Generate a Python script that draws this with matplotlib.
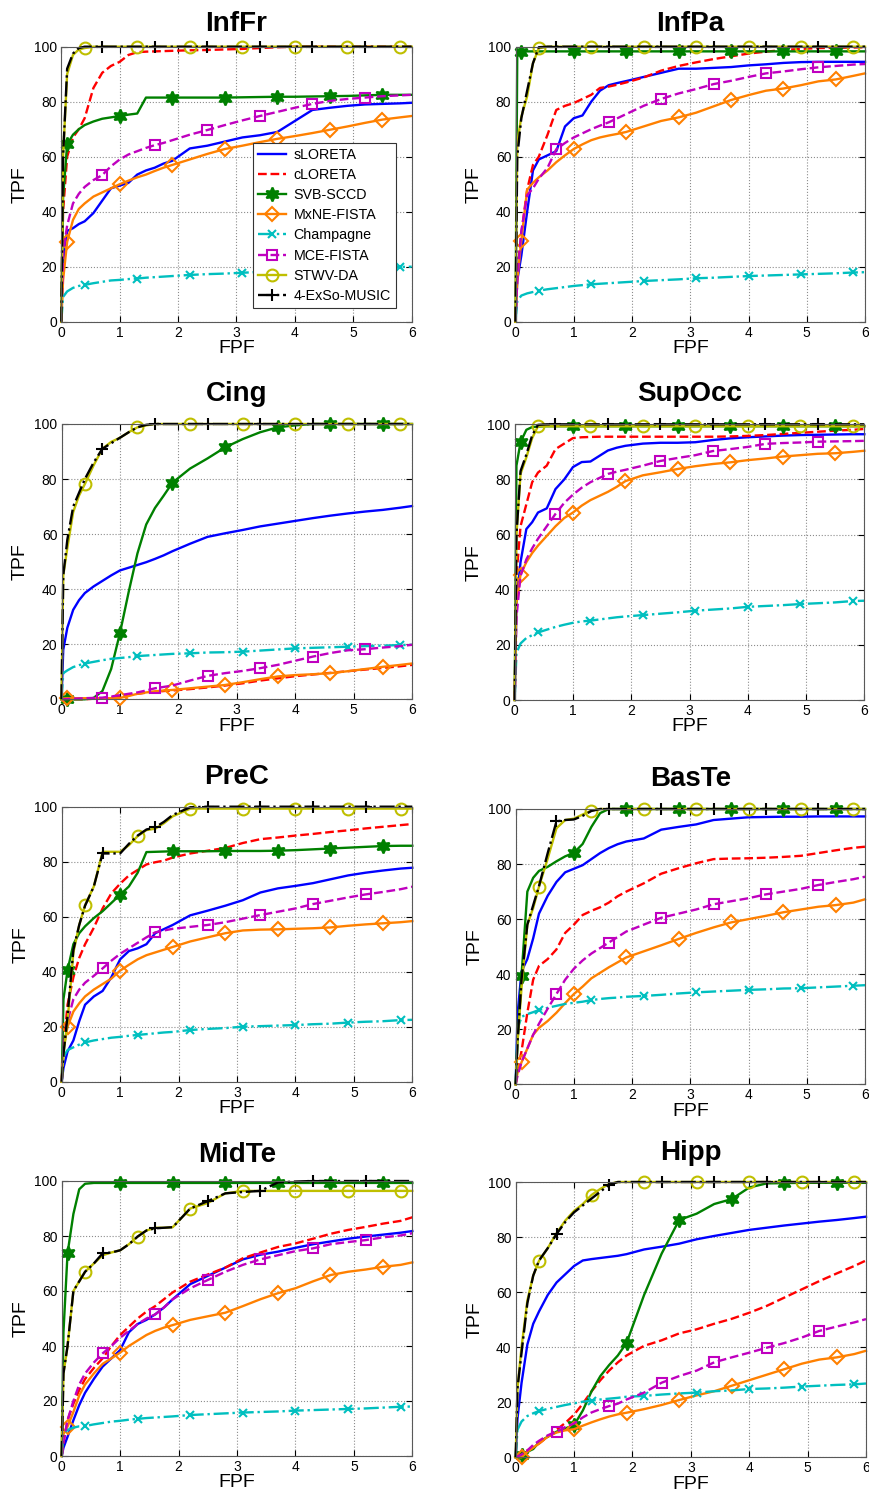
import numpy as np
import matplotlib.pyplot as plt

plt.rcParams['font.family'] = ['Liberation Sans', 'DejaVu Sans']

# FPF sample positions shared by every curve
GRID = [0, 0.03, 0.1, 0.2, 0.3, 0.4, 0.55, 0.7, 0.85, 1.0, 1.15, 1.3, 1.45, 1.6, 1.75,
        1.9, 2.2, 2.5, 2.8, 3.1, 3.4, 3.7, 4.0, 4.3, 4.6, 4.9, 5.2, 5.5, 5.8, 6.0]

methods = ['sLORETA', 'cLORETA', 'SVB-SCCD', 'MxNE-FISTA', 'Champagne',
           'MCE-FISTA', 'STWV-DA', '4-ExSo-MUSIC']
titles = ['InfFr', 'InfPa', 'Cing', 'SupOcc', 'PreC', 'BasTe', 'MidTe', 'Hipp']

# TPF values, one row per method (same order as methods)
infFr = [
    [0, 22, 33, 34, 35.5, 36.5, 39.5, 44, 48.5, 49.5, 50.5, 53.5, 55, 56, 57.5, 58.5, 63, 64, 65.5, 67, 67.8, 69, 73, 77, 77.8, 78.5, 79, 79.2, 79.4, 79.6],
    [0, 40, 60, 67, 70, 74, 85, 90.5, 93, 94.5, 97, 98, 98.2, 98.3, 98.4, 98.5, 98.7, 98.8, 99, 99.2, 99.5, 99.8, 100, 100, 100, 100, 100, 100, 100, 100],
    [0, 45, 64.5, 68, 70, 71.5, 72.8, 73.8, 74.3, 74.8, 75.3, 75.7, 81.5, 81.5, 81.5, 81.5, 81.5, 81.5, 81.5, 81.6, 81.7, 81.8, 81.8, 81.9, 82, 82.1, 82.3, 82.5, 82.5, 82.5],
    [0, 15, 29, 37, 41, 43, 45.5, 47, 48.5, 50, 51.3, 52.5, 53.5, 54.8, 56, 57, 59, 61, 62.8, 64, 65.3, 66.5, 67.5, 68.6, 69.8, 71, 72.3, 73.5, 74.3, 74.8],
    [0, 9, 11, 12.3, 13, 13.4, 14, 14.5, 15, 15.2, 15.5, 15.7, 16, 16.2, 16.4, 16.6, 17, 17.3, 17.5, 17.8, 18.1, 18.3, 18.5, 18.8, 19.1, 19.3, 19.5, 19.7, 19.9, 20],
    [0, 25, 35, 43, 46.5, 49, 51.5, 53.3, 56.5, 59, 60.8, 62, 63.2, 64.2, 65, 66, 68, 69.7, 71.5, 73.2, 74.8, 76.3, 77.8, 79.2, 80.3, 81, 81.5, 82, 82.3, 82.5],
    [0, 60, 90, 97, 99, 99.5] + [100] * 24,
    [0, 60, 92, 97.5, 99.5, 100] + [100] * 24,
]
infPa = [
    [0, 15, 24, 40, 55, 59, 60.5, 62, 71, 74, 75, 80, 84, 86, 86.8, 87.5, 89, 90.5, 92, 92, 92.3, 92.6, 93.2, 93.6, 94.1, 94.4, 94.5, 94.5, 94.5, 94.5],
    [0, 18, 32, 48, 57, 60, 68, 77, 78.5, 79.5, 81, 82.5, 85, 85.5, 86.2, 87, 88.8, 91.3, 93, 94.3, 95.5, 96.5, 97.5, 98.2, 98.8, 99.2, 99.5, 99.6, 99.7, 99.8],
    [0, 97, 98] + [98.3] * 27,
    [0, 15, 29.5, 48, 50.5, 52.5, 55, 58, 60.5, 62.8, 64.5, 66, 67, 67.7, 68.3, 69, 71, 73, 74.3, 76, 78.3, 80.6, 82.4, 84, 84.8, 86, 87.4, 88.1, 89.4, 90.3],
    [0, 7.5, 9.5, 10.3, 10.8, 11.3, 11.8, 12.2, 12.6, 13, 13.3, 13.6, 13.8, 14, 14.2, 14.4, 14.8, 15.1, 15.4, 15.8, 16, 16.3, 16.6, 16.8, 17, 17.2, 17.4, 17.6, 17.9, 18],
    [0, 15, 33, 46, 48.5, 52, 56, 62.7, 65, 67, 68.5, 70, 71.3, 72.5, 74, 75.5, 78.5, 81, 83, 84.6, 86.4, 87.6, 89, 90.3, 91, 91.8, 92.5, 93, 93.5, 93.7],
    [0, 65, 74.5, 82, 94, 99.4] + [100] * 24,
    [0, 60, 74, 84, 94, 99.8] + [100] * 24,
]
cing = [
    [0, 18, 26, 32.5, 36, 38.6, 41, 43, 45, 46.8, 47.8, 48.8, 49.8, 51, 52.3, 53.8, 56.5, 59, 60.3, 61.5, 62.8, 63.8, 64.8, 65.8, 66.7, 67.5, 68.2, 68.8, 69.6, 70.2],
    [0, 0, 0, 0, 0, 0, 0.2, 0.4, 0.7, 1, 1.5, 2, 2.4, 2.7, 3, 3.2, 3.7, 4.3, 5, 5.8, 6.8, 7.6, 8.4, 9, 9.6, 10.2, 10.8, 11.4, 12, 12.5],
    [0, 0, 0, 0, 0, 0, 0.5, 3, 11, 24, 39, 53, 63.5, 69.5, 74, 78.7, 83.8, 87.5, 91.5, 94.5, 97, 98.8, 99.5, 100, 100, 100, 100, 100, 100, 100],
    [0, 0.3, 0.4, 0.4, 0.4, 0.4, 0.4, 0.4, 0.4, 0.5, 1.2, 2, 2.5, 2.9, 3.2, 3.4, 4, 4.6, 5.2, 6.2, 7.3, 8.3, 8.8, 9.1, 9.5, 10.2, 11, 11.8, 12.5, 13],
    [0, 9.5, 10.5, 11.7, 12.4, 13, 13.6, 14.2, 14.7, 15, 15.3, 15.7, 15.9, 16.1, 16.3, 16.5, 16.7, 17, 17.1, 17.3, 17.7, 18.1, 18.5, 18.7, 18.9, 19.1, 19.3, 19.5, 19.7, 19.8],
    [0, 0, 0.1, 0.2, 0.3, 0.4, 0.5, 0.6, 1, 1.5, 2, 2.5, 3.2, 4, 4.5, 5, 6.8, 8.5, 9.5, 10.3, 11.3, 12.5, 14, 15.5, 16.8, 17.8, 18.2, 18.8, 19.3, 19.8],
    [0, 45, 55, 68, 74, 78.2, 85, 91, 93.5, 95, 97, 98.8, 99.5, 100] + [100] * 16,
    [0, 45, 58, 70, 75, 80, 86, 91, 93, 95, 97, 98.8, 99.7, 100] + [100] * 16,
]
supOcc = [
    [0, 35, 50, 62, 64.5, 68, 69.5, 76.5, 80, 84.5, 86.3, 86.5, 88.5, 90.5, 91.5, 92.2, 93, 93.3, 93.3, 93.5, 94.3, 94.9, 95.3, 95.6, 95.9, 96.1, 96.2, 96.3, 96.4, 96.4],
    [0, 45, 63, 71, 79, 82.5, 85, 91, 93, 95, 95.3, 95.4, 95.5, 95.5, 95.5, 95.5, 95.5, 95.5, 95.5, 95.5, 95.5, 95.6, 95.8, 96.1, 96.5, 96.9, 97.3, 97.7, 98, 98.3],
    [0, 85, 93.5, 98, 99, 99.2] + [99.3] * 24,
    [0, 35, 45.5, 50, 53.3, 56, 59.5, 63, 66, 68, 70.5, 72.5, 74, 75.5, 77.3, 79.4, 81.5, 82.6, 83.8, 84.8, 85.6, 86.2, 87, 87.6, 88.3, 88.8, 89.3, 89.5, 90, 90.4],
    [0, 17, 20.5, 22.5, 23.5, 24.5, 25.5, 26.5, 27.3, 28, 28.5, 28.8, 29.2, 29.6, 30, 30.3, 30.8, 31.3, 31.8, 32.4, 32.8, 33.2, 33.8, 34.1, 34.4, 34.8, 35.1, 35.4, 35.9, 36],
    [0, 30, 45, 51, 55, 58.5, 63, 67.5, 71.5, 74.5, 77, 79, 80.5, 82, 82.8, 83.5, 85, 86.7, 87.8, 88.8, 90.3, 91, 91.8, 92.9, 93.2, 93.4, 93.7, 93.8, 93.9, 94],
    [0, 60, 82, 88, 95, 99.3] + [99.3] * 24,
    [0, 60, 83, 89, 96, 99.8] + [100] * 24,
]
preC = [
    [0, 5, 11, 15, 22, 28, 31, 33, 38, 44.5, 47.5, 48.5, 50, 54, 55.5, 57, 60.5, 62.2, 64, 66, 68.8, 70.3, 71.2, 72.2, 73.6, 75, 76, 76.8, 77.5, 77.8],
    [0, 12, 28, 38, 45, 50, 56, 63, 68.5, 72, 75, 77, 79, 79.8, 80.4, 81.5, 83, 84, 85, 86.8, 88.2, 88.8, 89.5, 90.1, 90.8, 91.4, 92.1, 92.7, 93.3, 93.7],
    [0, 30, 40.5, 50, 54, 56.5, 59.5, 62, 65, 68, 71, 76, 83.5, 83.6, 83.7, 83.8, 83.8, 83.8, 83.9, 83.9, 83.9, 84, 84.2, 84.5, 84.8, 85.1, 85.4, 85.7, 85.8, 85.8],
    [0, 12, 20, 25.5, 28.5, 31, 33.5, 35.5, 37.5, 40.4, 42.5, 44.5, 46, 47, 48, 49, 51, 52.5, 54, 55, 55.3, 55.4, 55.6, 55.8, 56.1, 56.7, 57.2, 57.6, 58, 58.4],
    [0, 9, 11.5, 12.5, 13.5, 14.3, 15, 15.5, 16, 16.3, 16.7, 17, 17.3, 17.6, 17.9, 18.1, 18.8, 19.2, 19.5, 20, 20.2, 20.4, 20.6, 20.9, 21.1, 21.5, 21.8, 22, 22.4, 22.5],
    [0, 12, 22, 30, 33.5, 36, 38.5, 41.2, 44, 46.5, 48.5, 50.5, 52.5, 54.3, 55, 55.6, 56.3, 57, 58, 59.3, 60.6, 61.8, 63, 64.6, 65.8, 67, 68.1, 69, 70, 70.9],
    [0, 10, 22, 47, 57, 64.2, 71, 83.6, 83.6, 83.6, 86, 89.3, 91.5, 92, 94, 96.5, 99.3] + [99.3] * 13,
    [0, 10, 24, 48, 57, 64, 71, 83, 83, 83, 86.5, 89.5, 91.7, 92.5, 94.5, 97, 99.8] + [100] * 13,
]
basTe = [
    [0, 25, 41, 45.5, 53, 62, 68.5, 73.5, 77, 78.3, 79.6, 81.8, 84, 85.8, 87.2, 88.2, 89.3, 92.5, 93.5, 94.4, 96, 96.5, 97, 97.1, 97.2, 97.2, 97.3, 97.3, 97.3, 97.3],
    [0, 5, 12, 26, 38, 43, 45.5, 49, 55, 58, 61.5, 63, 64.3, 66, 68.3, 70, 73, 76.5, 78.5, 80.3, 81.8, 82, 82.1, 82.3, 82.6, 83, 84, 85, 85.9, 86.3],
    [0, 15, 39.5, 70, 75, 77.5, 79, 81, 82.8, 84.1, 87.3, 93.5, 98.5, 100] + [100] * 16,
    [0, 4, 8, 13, 18, 20.5, 23, 26, 29.5, 32.8, 35.5, 38.5, 40.5, 42.5, 44.3, 46.1, 48.3, 50.5, 52.8, 55, 57, 58.8, 60, 61.2, 62.5, 63.5, 64.5, 65.1, 66, 67.2],
    [0, 20, 24.5, 25.5, 26.2, 27, 27.8, 28.5, 29.2, 29.6, 30, 30.6, 31, 31.3, 31.5, 31.8, 32.1, 32.5, 33, 33.4, 33.7, 34, 34.3, 34.5, 34.8, 34.9, 35.2, 35.5, 35.8, 36],
    [0, 3, 8, 13, 18, 22, 27.5, 32.8, 38, 42, 45, 47.5, 49.5, 51.5, 53.5, 55.5, 58, 60.5, 62, 63.5, 65.4, 66.5, 67.6, 69, 70, 71, 72.4, 73.5, 74.5, 75.4],
    [0, 15, 35, 58, 64, 71.8, 82, 93, 96, 96.5, 98, 99.4, 100] + [100] * 17,
    [0, 15, 38, 58, 65, 72, 84, 95.5, 96, 96.2, 97.5, 99.3, 100] + [100] * 17,
]
midTe = [
    [0, 3, 7, 13, 18.5, 23, 28, 32.5, 35.5, 38.5, 45, 48, 49.5, 51.5, 54, 57, 62.5, 65.5, 68.5, 71.5, 73.2, 74.3, 75.7, 77, 78, 79, 79.8, 80.5, 81.2, 81.8],
    [0, 5, 13, 19, 24, 28, 32, 35.5, 40, 44, 47, 50, 52.5, 54.5, 57, 59.5, 63.4, 66, 68.5, 71.9, 74, 76, 77.3, 79, 80.8, 82.2, 83.3, 84.5, 85.5, 86.8],
    [0, 45, 73.7, 88, 97, 99, 99.3] + [99.3] * 23,
    [0, 8, 10.7, 16, 22, 26, 30, 33.5, 35.5, 37.6, 40, 42, 44, 45.5, 46.7, 47.6, 49.5, 50.8, 52.1, 54.5, 57, 59.2, 61, 63.5, 65.8, 67, 67.8, 68.8, 69.5, 70.4],
    [0, 8, 9.5, 10.3, 10.8, 10.9, 11.5, 12, 12.5, 12.8, 13.2, 13.5, 13.8, 14, 14.2, 14.4, 14.9, 15.2, 15.5, 15.8, 16, 16.2, 16.5, 16.7, 16.9, 17.1, 17.3, 17.6, 17.9, 18],
    [0, 5, 13, 20, 26, 30, 34, 37.3, 40, 43, 45.5, 48, 50, 51.5, 54, 57, 61, 64, 67, 69.5, 71.5, 73, 74.5, 75.5, 77, 77.8, 78.5, 79.5, 80.2, 81],
    [0, 30, 40, 60, 63.5, 67, 70, 73, 74, 74.8, 77, 79.8, 82, 83, 83, 83.2, 90, 92, 95.5, 96.4] + [96.4] * 10,
    [0, 30, 40, 60, 63.5, 67, 70, 73.7, 74, 74.8, 77, 79.8, 82, 82.8, 83, 83.2, 90, 92.7, 95.5, 96, 96.4, 99.5, 99.8, 100] + [100] * 6,
]
hipp = [
    [0, 14, 27, 41, 48.5, 53, 59, 63.5, 66.5, 69.5, 71.5, 72, 72.4, 72.8, 73.2, 73.8, 75.5, 76.5, 77.6, 79.2, 80.4, 81.5, 82.6, 83.4, 84.2, 84.9, 85.6, 86.2, 86.9, 87.4],
    [0, 0.3, 1, 2.5, 3.8, 5, 7.5, 10, 12.5, 15.5, 19.5, 24, 28, 31.5, 34.5, 37, 40.5, 42.5, 45, 46.5, 48.5, 50.3, 52.5, 55, 58, 61, 64, 66.8, 69.5, 71.5],
    [0, 0.5, 0.8, 2, 3, 5.5, 7.5, 9.3, 10.5, 11.7, 17, 24, 29.5, 33.5, 37, 41.6, 59, 74, 86.2, 88.5, 92, 93.8, 98, 99.5, 99.6, 99.7, 99.7, 99.7, 99.7, 99.7],
    [0, 0, 0, 2, 3.5, 5, 7.5, 9, 9.8, 10.2, 11.5, 12.7, 13.8, 14.8, 15.6, 16.2, 17.5, 19, 20.8, 22.5, 24, 26, 28, 30, 32, 34, 35.5, 36.3, 37.5, 38.7],
    [0, 10, 13, 15, 16, 16.8, 17.6, 18.3, 19, 19.6, 20.2, 20.6, 21, 21.3, 21.6, 22, 22.3, 22.8, 23.2, 23.5, 24, 24.3, 24.8, 25, 25.3, 25.7, 26, 26.3, 26.5, 26.8],
    [0, 0.3, 1, 2.5, 4.5, 6, 8, 9.3, 11, 12.3, 14.5, 16.3, 17.5, 18.6, 19.5, 21, 23.5, 27.1, 29.5, 31.5, 34.5, 36.3, 38, 39.8, 41.5, 43.5, 45.9, 47.5, 49, 50.2],
    [0, 25, 40, 57, 66, 71.4, 76, 81.4, 86, 89.5, 92, 95.3, 97.5, 99.3, 100] + [100] * 15,
    [0, 25, 38, 56, 66, 71.5, 76, 81.1, 85.5, 89, 91.5, 94, 96.5, 99, 100] + [100] * 15,
]
panels = [infFr, infPa, cing, supOcc, preC, basTe, midTe, hipp]

# where the markers sit on each curve
marks_a = [0.1, 1.0, 1.9, 2.8, 3.7, 4.6, 5.5]
marks_b = [0.4, 1.3, 2.2, 3.1, 4.0, 4.9, 5.8]
marks_c = [0.7, 1.6, 2.5, 3.4, 4.3, 5.2]

styles = [
    dict(color='b', ls='-', marker=None, marks=None),
    dict(color='r', ls='--', marker=None, marks=None),
    dict(color=(0, 0.5, 0), ls='-', marker=(6, 1, 0), ms=10, mfc=(0, 0.5, 0), marks=marks_a),
    dict(color=(1, 0.5, 0), ls='-', marker='D', ms=7, mfc='none', marks=marks_a),
    dict(color=(0, 0.75, 0.75), ls='-.', marker='x', ms=6, mfc='none', marks=marks_b),
    dict(color=(0.75, 0, 0.75), ls='--', marker='s', ms=6.5, mfc='none', marks=marks_c),
    dict(color=(0.75, 0.75, 0), ls='-', marker='o', ms=8.5, mfc='none', marks=marks_b),
    dict(color='k', ls='-.', marker='+', ms=9, mfc='none', marks=marks_c),
]

# axes boxes in pixels: left, top, right, bottom
boxes = [(61.3, 46.7, 411.7, 321.7), (515.5, 46.7, 865, 321.7),
         (61.5, 424, 412, 699.3), (514.7, 424.3, 864.3, 700),
         (61.7, 806.7, 412.3, 1081.7), (515.7, 809, 865, 1084.3),
         (61.7, 1181, 412.3, 1456), (515.7, 1182, 866, 1457.3)]
title_pads = [11.5, 11.5, 16.5, 16.5, 16.5, 16.5, 14, 15.5]

W, H = 869, 1495
fig = plt.figure(figsize=(W / 100, H / 100), dpi=100)
x = np.array(GRID)

for p in range(8):
    l, t, r, b = boxes[p]
    ax = fig.add_axes([l / W, 1 - b / H, (r - l) / W, (b - t) / H])
    for m in range(8):
        st = styles[m]
        y = np.array(panels[p][m])
        kw = {}
        if st['marker'] is not None:
            idx = [int(np.argmin(np.abs(x - v))) for v in st['marks']]
            kw = dict(marker=st['marker'], markevery=idx, ms=st['ms'],
                      mfc=st['mfc'], mec=st['color'], mew=1.5)
        ax.plot(x, y, color=st['color'], ls=st['ls'], lw=1.7, label=methods[m],
                clip_on=False, **kw)
    ax.set_xlim(0, 6)
    ax.set_ylim(0, 100)
    ax.set_xticks(range(0, 7))
    ax.set_yticks(range(0, 101, 20))
    ax.grid(True, ls=':', color='0.55', lw=0.8)
    ax.tick_params(direction='in', length=4, top=True, right=True, labelsize=10, pad=3)
    for s in ax.spines.values():
        s.set_color('0.35')
        s.set_linewidth(0.8)
    ax.set_title(titles[p], fontsize=20, fontweight='bold', pad=title_pads[p])
    ax.set_xlabel('FPF', fontsize=14)
    ax.set_ylabel('TPF', fontsize=14)
    ax.xaxis.set_label_coords(0.5, -0.097)
    ax.xaxis.label.set_va('center')
    ax.yaxis.set_label_coords(-0.117, 0.5)
    ax.yaxis.label.set_va('center')
    if p == 0:
        leg = ax.legend(loc='lower left', bbox_to_anchor=(0.546, 0.05), fontsize=10.3,
                        frameon=True, fancybox=False, edgecolor='0.2', framealpha=1,
                        handlelength=2.0, labelspacing=0.43, borderpad=0.35,
                        handletextpad=0.5, borderaxespad=0)
        leg.get_frame().set_linewidth(0.8)

fig.savefig('out.png', dpi=100)
